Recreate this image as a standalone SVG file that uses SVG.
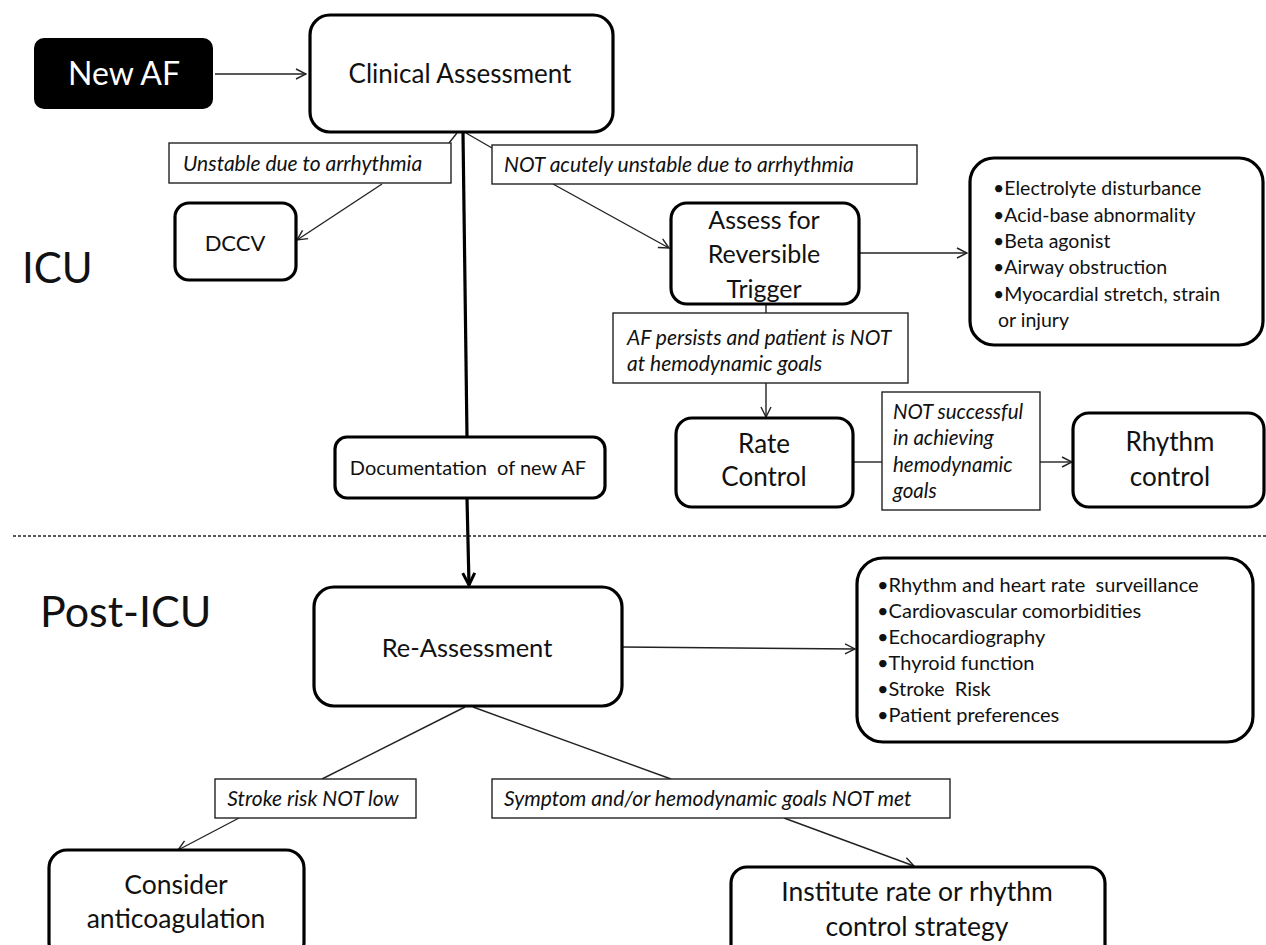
<svg xmlns="http://www.w3.org/2000/svg" width="1266" height="945" viewBox="0 0 1266 945">
<style>
text{font-family:Lato,"Liberation Sans",sans-serif;fill:#111}
.box{fill:#fff;stroke:#000;stroke-width:3.2}
.lab{fill:#fff;stroke:#222;stroke-width:1.4}
.it{font-style:italic;font-size:21px}
.c{text-anchor:middle}
.con{fill:none;stroke:#222;stroke-width:1.4}
.thick{fill:none;stroke:#000;stroke-width:3.2}
.bul{font-size:19.5px}
.bul2{font-size:20px}
</style>
<defs>
<marker id="ah" viewBox="0 0 12 12" refX="11" refY="6" markerWidth="12" markerHeight="12" markerUnits="userSpaceOnUse" orient="auto">
<path d="M1,1 L11,6 L1,11" fill="none" stroke="#222" stroke-width="1.4"/>
</marker>
<marker id="ahT" viewBox="0 0 16 16" refX="14" refY="8" markerWidth="16" markerHeight="16" markerUnits="userSpaceOnUse" orient="auto">
<path d="M2,2 L14,8 L2,14" fill="none" stroke="#000" stroke-width="3"/>
</marker>
</defs>

<text x="22" y="283" style="font-size:42px">ICU</text>
<text x="40" y="627" style="font-size:43px">Post-ICU</text>
<line x1="13" y1="536" x2="1266" y2="536" stroke="#222" stroke-width="1.6" stroke-dasharray="3,2"/>

<g id="connectors">
<line class="con" x1="215" y1="74" x2="306" y2="74" marker-end="url(#ah)"/>
<line class="con" x1="457" y1="133" x2="449" y2="143"/>
<line class="con" x1="382" y1="184" x2="297" y2="240" marker-end="url(#ah)"/>
<line class="con" x1="466" y1="133" x2="492" y2="148"/>
<line class="con" x1="553" y1="184" x2="669" y2="248" marker-end="url(#ah)"/>
<line class="con" x1="859" y1="253" x2="967" y2="253" marker-end="url(#ah)"/>
<line class="con" x1="766" y1="304" x2="766" y2="313"/>
<line class="con" x1="766" y1="383" x2="766" y2="417" marker-end="url(#ah)"/>
<line class="con" x1="853" y1="462" x2="882" y2="462"/>
<line class="con" x1="1040" y1="462" x2="1072" y2="462" marker-end="url(#ah)"/>
<line class="thick" x1="463" y1="133" x2="467" y2="437"/>
<line class="thick" x1="467" y1="498" x2="469" y2="585" marker-end="url(#ahT)"/>
<line class="con" x1="622" y1="647" x2="855" y2="649" marker-end="url(#ah)"/>
<line class="con" x1="465" y1="707" x2="322" y2="779"/>
<line class="con" x1="239" y1="818" x2="178" y2="850" marker-end="url(#ah)"/>
<line class="con" x1="473" y1="707" x2="671" y2="779"/>
<line class="con" x1="784" y1="818" x2="914" y2="866" marker-end="url(#ah)"/>
</g>

<g id="new-af">
<rect x="34" y="38" width="179" height="71" rx="10" fill="#000"/>
<text x="124" y="85" class="c" style="font-size:32px;fill:#fff">New AF</text>
</g>

<g id="clinical-assessment">
<rect class="box" x="310" y="15" width="303" height="117" rx="20"/>
<text x="460" y="83" class="c" style="font-size:26px">Clinical Assessment</text>
</g>

<g id="label-unstable">
<rect class="lab" x="169" y="143" width="282" height="40"/>
<text x="183" y="171" class="it">Unstable due to arrhythmia</text>
</g>

<g id="label-not-unstable">
<rect class="lab" x="492" y="145" width="425" height="39"/>
<text x="504" y="172" class="it">NOT acutely unstable due to arrhythmia</text>
</g>

<g id="dccv">
<rect class="box" x="175" y="203" width="121" height="77" rx="14"/>
<text x="235" y="251" class="c" style="font-size:22px">DCCV</text>
</g>

<g id="assess-trigger">
<rect class="box" x="671" y="203" width="188" height="101" rx="16"/>
<text x="764" y="229" class="c" style="font-size:25px">Assess for</text>
<text x="764" y="263" class="c" style="font-size:25px">Reversible</text>
<text x="764" y="298" class="c" style="font-size:25px">Trigger</text>
</g>

<g id="triggers-list">
<rect class="box" x="970" y="158" width="293" height="187" rx="24"/>
<text x="993" y="195" class="bul">•Electrolyte disturbance</text>
<text x="993" y="222" class="bul">•Acid-base abnormality</text>
<text x="993" y="248" class="bul">•Beta agonist</text>
<text x="993" y="274" class="bul">•Airway obstruction</text>
<text x="993" y="301" class="bul">•Myocardial stretch, strain</text>
<text x="998" y="327" class="bul">or injury</text>
</g>

<g id="label-af-persists">
<rect class="lab" x="613" y="313" width="295" height="70"/>
<text x="627" y="345" class="it">AF persists and patient is NOT</text>
<text x="627" y="371" class="it">at hemodynamic goals</text>
</g>

<g id="rate-control">
<rect class="box" x="676" y="418" width="177" height="89" rx="16"/>
<text x="764" y="453" class="c" style="font-size:26px">Rate</text>
<text x="764" y="486" class="c" style="font-size:26px">Control</text>
</g>

<g id="label-not-successful">
<rect class="lab" x="882" y="392" width="158" height="118"/>
<text x="893" y="419" class="it" style="font-size:20.5px">NOT successful</text>
<text x="893" y="445" class="it" style="font-size:20.5px">in achieving</text>
<text x="893" y="472" class="it" style="font-size:20.5px">hemodynamic</text>
<text x="893" y="498" class="it" style="font-size:20.5px">goals</text>
</g>

<g id="rhythm-control">
<rect class="box" x="1073" y="413" width="191" height="94" rx="16"/>
<text x="1170" y="451" class="c" style="font-size:26px">Rhythm</text>
<text x="1170" y="486" class="c" style="font-size:26px">control</text>
</g>

<g id="documentation">
<rect class="box" x="335" y="437" width="270" height="61" rx="12"/>
<text x="468" y="475" class="c" style="font-size:20px" xml:space="preserve">Documentation  of new AF</text>
</g>

<g id="re-assessment">
<rect class="box" x="314" y="587" width="308" height="119" rx="20"/>
<text x="467" y="657" class="c" style="font-size:25.5px">Re-Assessment</text>
</g>

<g id="post-icu-list">
<rect class="box" x="857" y="558" width="396" height="184" rx="26"/>
<text x="877" y="592" class="bul2" xml:space="preserve">•Rhythm and heart rate  surveillance</text>
<text x="877" y="618" class="bul2">•Cardiovascular comorbidities</text>
<text x="877" y="644" class="bul2">•Echocardiography</text>
<text x="877" y="670" class="bul2">•Thyroid function</text>
<text x="877" y="696" class="bul2" xml:space="preserve">•Stroke  Risk</text>
<text x="877" y="722" class="bul2">•Patient preferences</text>
</g>

<g id="label-stroke">
<rect class="lab" x="215" y="779" width="201" height="39"/>
<text x="313" y="806" class="it c">Stroke risk NOT low</text>
</g>

<g id="label-symptom">
<rect class="lab" x="492" y="779" width="458" height="39"/>
<text x="504" y="806" class="it">Symptom and/or hemodynamic goals NOT met</text>
</g>

<g id="consider-anticoagulation">
<rect class="box" x="49" y="850" width="255" height="110" rx="18"/>
<text x="176" y="894" class="c" style="font-size:26.5px">Consider</text>
<text x="176" y="928" class="c" style="font-size:26.5px">anticoagulation</text>
</g>

<g id="institute-strategy">
<rect class="box" x="731" y="867" width="374" height="95" rx="16"/>
<text x="917" y="901" class="c" style="font-size:26.5px">Institute rate or rhythm</text>
<text x="917" y="936" class="c" style="font-size:26.5px">control strategy</text>
</g>
</svg>
